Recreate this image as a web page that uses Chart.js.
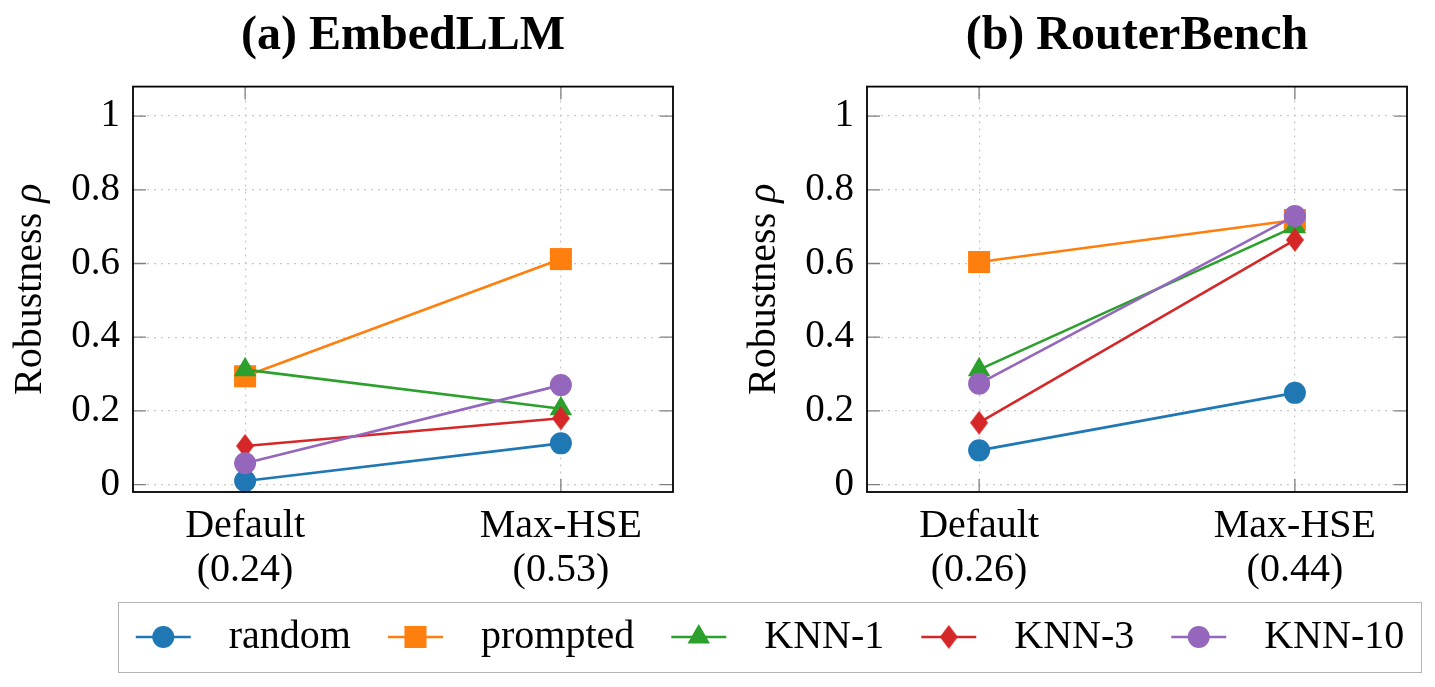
<!DOCTYPE html>
<html>
<head>
<meta charset="utf-8">
<script src="https://cdn.jsdelivr.net/npm/chart.js@4.4.1/dist/chart.umd.min.js"></script>
<style>
  html, body { margin: 0; padding: 0; background: #fff; width: 1435px; height: 687px; overflow: hidden; }
  canvas { position: absolute; }
  #chartA { left: 0; top: 0; }
  #chartB { left: 734px; top: 0; }
  #legendFrame { position: absolute; left: 118px; top: 602px; width: 1302px; height: 69px; border: 1.5px solid #b3b3b3; }
  #legendChart { left: 90px; top: 580px; }
</style>
</head>
<body>
<div id="legendFrame"></div>
<canvas id="chartA" width="700" height="600"></canvas>
<canvas id="chartB" width="700" height="600"></canvas>
<canvas id="legendChart" width="1360" height="200"></canvas>
<script>
// datos
const categories = ['Default', 'Max-HSE'];
const embedScores = ['(0.24)', '(0.53)'];
const routerScores = ['(0.26)', '(0.44)'];
const seriesNames = ['random', 'prompted', 'KNN-1', 'KNN-3', 'KNN-10'];

// (a) EmbedLLM
const embedRandom = [0.010, 0.112];
const embedPrompted = [0.294, 0.612];
const embedKnn1 = [0.312, 0.206];
const embedKnn3 = [0.105, 0.180];
const embedKnn10 = [0.058, 0.270];

// (b) RouterBench
const routerRandom = [0.093, 0.249];
const routerPrompted = [0.604, 0.718];
const routerKnn1 = [0.312, 0.700];
const routerKnn3 = [0.168, 0.664];
const routerKnn10 = [0.274, 0.729];

const yTicks = [0, 0.2, 0.4, 0.6, 0.8, 1];
const yTickLabels = ['0', '0.2', '0.4', '0.6', '0.8', '1'];
const yTitleText = 'Robustness ';
const yTitleSymbol = 'ρ';

const seriesColors = ['#1f77b4', '#ff7f0e', '#2ca02c', '#d62728', '#9467bd'];
const FONT = "'Liberation Serif', 'Times New Roman', serif";

Chart.defaults.font.family = FONT;
Chart.defaults.color = '#000';

// rombo mas alto que ancho, como el de pgfplots
function diamondMarker(w, h, color) {
    const c = document.createElement('canvas');
    c.width = w;
    c.height = h;
    const g = c.getContext('2d');
    g.fillStyle = color;
    g.beginPath();
    g.moveTo(w / 2, 0);
    g.lineTo(w, h / 2);
    g.lineTo(w / 2, h);
    g.lineTo(0, h / 2);
    g.closePath();
    g.fill();
    return c;
}

const markerStyles = ['circle', 'rect', 'triangle', diamondMarker(18, 24, seriesColors[3]), 'circle'];
const markerRadius = [11, 15.6, 13, 12, 11];

function panelDatasets(values) {
    return seriesNames.map((name, i) => ({
        label: name,
        data: values[i].map((v, j) => ({ x: j, y: v })),
        borderColor: seriesColors[i],
        backgroundColor: seriesColors[i],
        pointBackgroundColor: seriesColors[i],
        pointStyle: markerStyles[i],
        pointRadius: markerRadius[i],
        pointHoverRadius: markerRadius[i],
        pointBorderWidth: 0,
        borderWidth: 2.6,
        clip: false,
        order: seriesNames.length - i // los ultimos quedan encima
    }));
}

// marco negro, marcas de tick hacia dentro y titulo del eje y con rho en cursiva
const frameTicks = {
    id: 'frameTicks',
    beforeDatasetsDraw(chart) {
        const { ctx, chartArea: a, scales } = chart;
        const len = 13;
        ctx.save();
        ctx.strokeStyle = '#808080';
        ctx.lineWidth = 1.3;
        ctx.beginPath();
        scales.y.ticks.forEach(t => {
            const y = scales.y.getPixelForValue(t.value);
            ctx.moveTo(a.left, y); ctx.lineTo(a.left + len, y);
            ctx.moveTo(a.right, y); ctx.lineTo(a.right - len, y);
        });
        scales.x.ticks.forEach(t => {
            const x = scales.x.getPixelForValue(t.value);
            ctx.moveTo(x, a.top); ctx.lineTo(x, a.top + len);
            ctx.moveTo(x, a.bottom); ctx.lineTo(x, a.bottom - len);
        });
        ctx.stroke();
        ctx.restore();
    },
    afterDraw(chart) {
        const { ctx, chartArea: a } = chart;
        ctx.save();
        ctx.strokeStyle = '#000';
        ctx.lineWidth = 1.8;
        ctx.strokeRect(a.left, a.top, a.right - a.left, a.bottom - a.top);
        ctx.restore();

        // titulo del eje y
        const upright = '40px ' + FONT;
        const italic = 'italic 40px ' + FONT;
        ctx.save();
        ctx.translate(chart.scales.y.left + 30, (a.top + a.bottom) / 2);
        ctx.rotate(-Math.PI / 2);
        ctx.fillStyle = '#000';
        ctx.textBaseline = 'middle';
        ctx.textAlign = 'left';
        ctx.font = upright;
        const w1 = ctx.measureText(yTitleText).width;
        ctx.font = italic;
        const w2 = ctx.measureText(yTitleSymbol).width;
        const x0 = -(w1 + w2) / 2;
        ctx.font = upright;
        ctx.fillText(yTitleText, x0, 0);
        ctx.font = italic;
        ctx.fillText(yTitleSymbol, x0 + w1, 0);
        ctx.restore();
    }
};

function makePanel(canvasId, title, values, scores) {
    new Chart(document.getElementById(canvasId), {
        type: 'line',
        data: { datasets: panelDatasets(values) },
        options: {
            responsive: false,
            animation: false,
            events: [],
            layout: { padding: { left: 0, right: 27, top: 0, bottom: 0 } },
            plugins: {
                legend: { display: false },
                tooltip: { enabled: false },
                title: {
                    display: true,
                    text: title,
                    fullSize: false,
                    color: '#000',
                    font: { family: FONT, size: 48, weight: 'bold', lineHeight: 1.2 },
                    padding: { top: 8, bottom: 21 }
                }
            },
            scales: {
                x: {
                    type: 'linear',
                    min: -0.355,
                    max: 1.355,
                    afterBuildTicks: (scale) => { scale.ticks = categories.map((c, i) => ({ value: i })); },
                    afterFit: (scale) => { scale.height = 108; },
                    ticks: {
                        callback: (value, index) => [categories[index], scores[index]],
                        font: { family: FONT, size: 40, lineHeight: 1.1 },
                        padding: 12,
                        maxRotation: 0,
                        autoSkip: false
                    },
                    grid: { color: '#c8c8c8', lineWidth: 1.2, drawTicks: false },
                    border: { display: false, dash: [2, 5] }
                },
                y: {
                    min: -0.02,
                    max: 1.08,
                    afterBuildTicks: (scale) => { scale.ticks = yTicks.map(v => ({ value: v })); },
                    afterFit: (scale) => { scale.width = 133; },
                    ticks: {
                        callback: (value, index) => yTickLabels[index],
                        font: { family: FONT, size: 39 },
                        padding: 13
                    },
                    grid: { color: '#c8c8c8', lineWidth: 1.2, drawTicks: false },
                    border: { display: false, dash: [2, 5] }
                }
            }
        },
        plugins: [frameTicks]
    });
}

makePanel('chartA', '(a) EmbedLLM', [embedRandom, embedPrompted, embedKnn1, embedKnn3, embedKnn10], embedScores);
makePanel('chartB', '(b) RouterBench', [routerRandom, routerPrompted, routerKnn1, routerKnn3, routerKnn10], routerScores);

// LEYENDA COMUN: linea + marcador dibujados sobre la caja de cada item
const legendMarkers = {
    id: 'legendMarkers',
    afterDraw(chart) {
        const ctx = chart.ctx;
        const lineLen = 55;
        chart.legend.legendHitBoxes.forEach((box, i) => {
            const y = box.top + box.height / 2;
            ctx.save();
            ctx.strokeStyle = seriesColors[i];
            ctx.lineWidth = 2.6;
            ctx.beginPath();
            ctx.moveTo(box.left, y);
            ctx.lineTo(box.left + lineLen, y);
            ctx.stroke();
            ctx.fillStyle = seriesColors[i];
            Chart.helpers.drawPoint(ctx, {
                pointStyle: markerStyles[i],
                radius: markerRadius[i],
                borderWidth: 0,
                rotation: 0
            }, box.left + lineLen / 2, y);
            ctx.restore();
        });
    }
};

new Chart(document.getElementById('legendChart'), {
    type: 'line',
    data: {
        datasets: seriesNames.map((name, i) => ({ label: name, data: [], borderColor: seriesColors[i] }))
    },
    options: {
        responsive: false,
        animation: false,
        events: [],
        scales: { x: { display: false }, y: { display: false } },
        plugins: {
            tooltip: { enabled: false },
            legend: {
                display: true,
                position: 'top',
                labels: {
                    color: '#000',
                    font: { family: FONT, size: 40 },
                    boxWidth: 73,
                    boxHeight: 20,
                    padding: 37,
                    generateLabels: (chart) => chart.data.datasets.map((ds, i) => ({
                        text: ds.label,
                        fillStyle: 'rgba(0,0,0,0)',
                        strokeStyle: 'rgba(0,0,0,0)',
                        lineWidth: 0,
                        hidden: false,
                        datasetIndex: i
                    }))
                }
            }
        }
    },
    plugins: [legendMarkers]
});
</script>
</body>
</html>
